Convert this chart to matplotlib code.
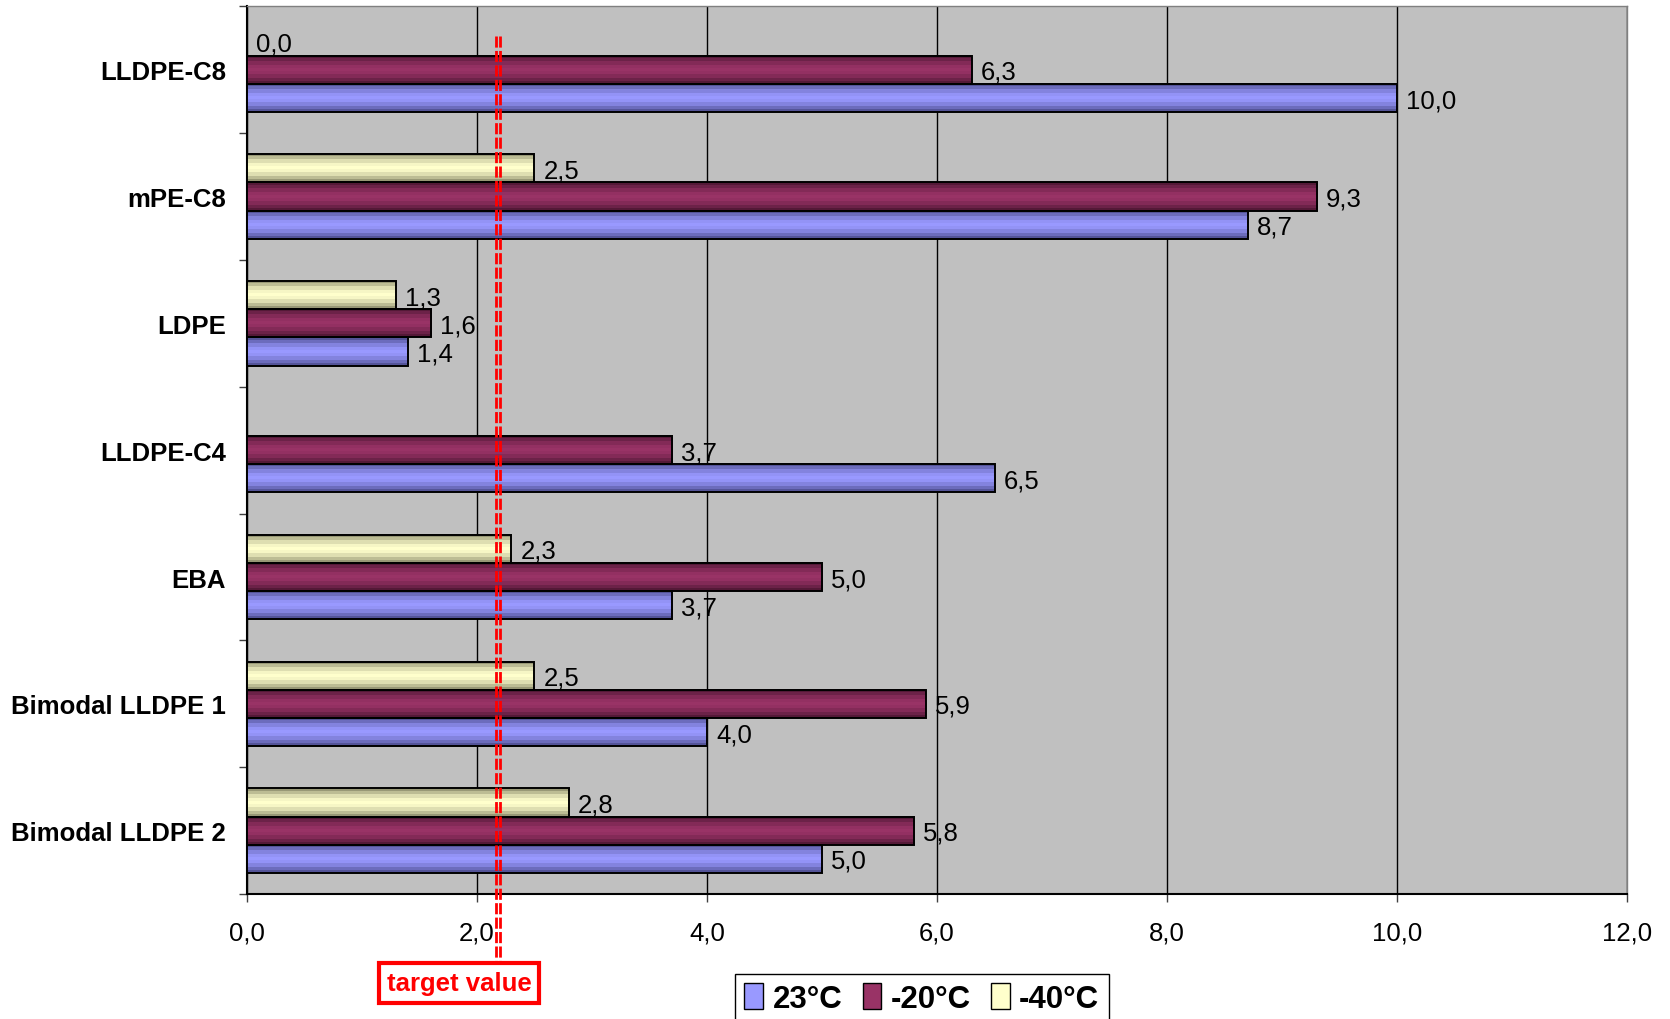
import numpy as np
import matplotlib
matplotlib.use("Agg")
import matplotlib.pyplot as plt
from matplotlib.colors import LinearSegmentedColormap
from matplotlib.patches import Rectangle, Patch

plt.rcParams['font.family'] = ['Liberation Sans', 'DejaVu Sans']

# data, top to bottom as in the chart
categories = ['LLDPE-C8', 'mPE-C8', 'LDPE', 'LLDPE-C4', 'EBA',
              'Bimodal LLDPE 1', 'Bimodal LLDPE 2']
series_names = ['23°C', '-20°C', '-40°C']
val_23 = [10.0, 8.7, 1.4, 6.5, 3.7, 4.0, 5.0]
val_m20 = [6.3, 9.3, 1.6, 3.7, 5.0, 5.9, 5.8]
val_m40 = [0.0, 2.5, 1.3, None, 2.3, 2.5, 2.8]
target = 2.2
xticks = np.arange(0, 12.1, 2.0)

# (edge colour, centre colour) for the cylinder-like shading
shades = [('#4c4c8c', '#9999ff'),
          ('#4c1632', '#993366'),
          ('#8c8c6c', '#ffffcc')]

fig = plt.figure(figsize=(16.7, 10.2), dpi=100)
ax = fig.add_axes([0.1477, 0.1225, 0.8268, 0.8703])
ax.set_facecolor('#c0c0c0')

w = 1 / 4.5
offsets = [w, 0.0, -w]   # 23 lowest, -40 on top (axis is inverted)
prof = np.sin(np.linspace(0.05, 0.95, 9) * np.pi) ** 1.2

for k, vals in enumerate([val_23, val_m20, val_m40]):
    cmap = LinearSegmentedColormap.from_list('s%d' % k, shades[k])
    for i, v in enumerate(vals):
        if v is None:
            continue
        yc = i + offsets[k]
        if v > 0:
            ax.imshow(prof[:, None], cmap=cmap, vmin=0, vmax=1, aspect='auto',
                      interpolation='nearest',
                      extent=[0, v, yc + w / 2, yc - w / 2], zorder=3)
            ax.add_patch(Rectangle((0, yc - w / 2), v, w, fill=False,
                                   edgecolor='black', lw=1.4, zorder=4))
        ax.annotate(('%.1f' % v).replace('.', ','), (v, yc),
                    xytext=(6.5, -1.5), textcoords='offset points',
                    va='center', ha='left', fontsize=18.5, zorder=5)

ax.set_xlim(0, 12)
ax.set_ylim(len(categories) - 0.5, -0.5)

ax.set_xticks(xticks)
ax.set_xticklabels([('%.1f' % t).replace('.', ',') for t in xticks], fontsize=18.5)
ax.set_yticks(range(len(categories)))
ax.set_yticklabels(categories, fontsize=18.5, fontweight='bold')
ax.set_yticks(np.arange(-0.5, len(categories)), minor=True)
ax.tick_params(axis='y', which='major', length=0, pad=15)
ax.tick_params(axis='y', which='minor', length=6, width=1, color='#404040')
ax.tick_params(axis='x', length=6, width=1, pad=13, color='#404040')

ax.grid(axis='x', color='black', lw=1, zorder=1)
ax.set_axisbelow(True)
for s in ['left', 'bottom']:
    ax.spines[s].set_color('black')
    ax.spines[s].set_linewidth(1.5)
for s in ['top', 'right']:
    ax.spines[s].set_color('#808080')
    ax.spines[s].set_linewidth(1)

# target value double dashed line
tr = ax.get_xaxis_transform()
for xx in [target - 0.035, target]:
    ax.plot([xx, xx], [0.9666, -0.107], transform=tr, color='red', lw=2,
            dashes=(4, 1.2), clip_on=False, zorder=10)

fig.text(459 / 1670, 1 - 984 / 1020, 'target value', color='red', fontsize=18.5,
         fontweight='bold', ha='center', va='center', zorder=9,
         bbox=dict(boxstyle='square,pad=0.3', facecolor='white',
                   edgecolor='red', lw=3))

handles = [Patch(facecolor=c[1], edgecolor='black', lw=1) for c in shades]
fig.legend(handles, series_names, loc='upper left',
           bbox_to_anchor=(735 / 1670, 1 - 975 / 1020), ncol=3,
           prop={'size': 22.5, 'weight': 'bold'}, frameon=True, fancybox=False,
           edgecolor='black', framealpha=1, handlelength=0.6, handleheight=0.9,
           handletextpad=0.3, columnspacing=0.65, borderpad=0.3,
           borderaxespad=0)

fig.savefig('out.png', dpi=100)
